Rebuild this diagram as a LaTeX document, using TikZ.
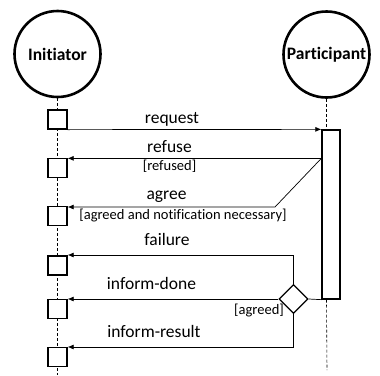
\documentclass[tikz,border=0pt]{standalone}
\usepackage{fontspec}
\setmainfont{Carlito}[Ligatures=NoCommon]
\usetikzlibrary{shapes.geometric,arrows.meta}
\begin{document}
\begin{tikzpicture}[x=1pt,y=-1pt,
  actor/.style={circle,draw,line width=2.6pt,minimum size=86pt,inner sep=0pt,
    font=\fontsize{17.5}{20}\selectfont\bfseries},
  lifeline/.style={dashed,line width=0.6pt,dash pattern=on 3pt off 2pt},
  acbox/.style={draw,fill=white,line width=1.3pt,minimum size=19pt,inner sep=0pt},
  msg/.style={line width=0.7pt,-{Latex[length=6pt,width=5pt]}},
  plain/.style={line width=0.7pt},
  lbl/.style={anchor=mid,inner sep=0pt,font=\fontsize{17.5}{20}\selectfont},
  guard/.style={anchor=mid,inner sep=0pt,font=\fontsize{14.5}{16}\selectfont},
]
\useasboundingbox (0,0) rectangle (380,375);

% roles
\node[actor] (init) at (57.5,54) {Initiator};
\node[actor] (part) at (326.5,54.5) {Participant};

% activation of the participant
\node[draw,fill=white,line width=1.3pt,minimum width=18pt,minimum height=169pt,inner sep=0pt]
  (act) at (331,214.5) {};

% lifelines
\coordinate (iend) at (57.5,375);
\coordinate (pend) at (327,370);
\draw[lifeline] (init.south) -- (iend);
\draw[lifeline] (part.south) -- (part.south |- act.north);
\draw[lifeline] (act.south -| part.south) -- (pend);

% initiator reception boxes
\node[acbox] (b1) at (57.5,119.5) {};
\node[acbox] (b2) at (57.5,168) {};
\node[acbox] (b3) at (57.5,216) {};
\node[acbox] (b4) at (57.5,265.5) {};
\node[acbox] (b5) at (57.5,309) {};
\node[acbox] (b6) at (57.5,357) {};

% decision on the outcome
\node[diamond,draw,fill=white,line width=1.3pt,minimum width=29pt,minimum height=29pt,inner sep=0pt]
  (dia) at (293.5,299) {};

% anchor points on the activation bar
\coordinate (areq) at (act.north west);
\coordinate (aref) at ([yshift=-29pt]act.north west);
\coordinate (aend) at (act.south west);
\coordinate (kagr) at (275,207);
\coordinate (kfail) at (293.5,255);
\coordinate (kres) at (293.5,347);

% request
\draw[msg] (b1.south east) -- (areq);
\node[lbl] at (172,121) {request};

% refuse
\draw[msg] (aref) -- (b2.east |- aref);
\node[lbl] at (169.5,150) {refuse};
\node[guard] at (169.5,168) {[refused]};

% agree
\draw[msg] (aref) -- (kagr) -- (b3.east |- kagr);
\node[lbl] at (166.5,197) {agree};
\node[guard] at (183,217.5) {[agreed and notification necessary]};

% failure
\draw[plain] (dia.north) -- (kfail);
\draw[msg] (kfail) -- (b4.east |- kfail);
\node[lbl] at (167,243.5) {failure};

% inform-done
\draw[plain] (dia.east) -- (aend);
\draw[msg] (dia.west) -- (b5.east |- dia.west);
\node[lbl] at (151.5,287) {inform-done};
\node[guard] at (259,312) {[agreed]};

% inform-result
\draw[plain] (dia.south) -- (kres);
\draw[msg] (kres) -- (b6.east |- kres);
\node[lbl] at (154,335) {inform-result};
\end{tikzpicture}
\end{document}
